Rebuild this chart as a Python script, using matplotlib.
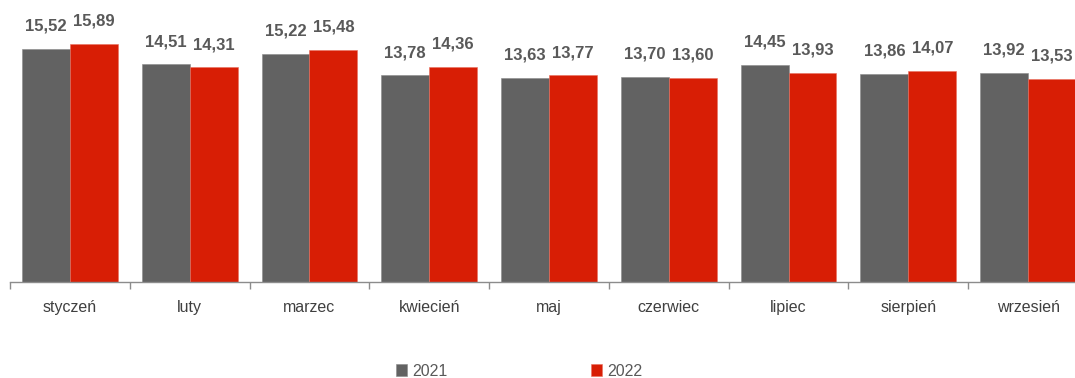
import numpy as np
import matplotlib
matplotlib.use("Agg")
from matplotlib import pyplot as plt
from matplotlib.ticker import FixedLocator, NullFormatter

# monthly values, two years side by side
months = ["styczeń", "luty", "marzec", "kwiecień", "maj", "czerwiec", "lipiec", "sierpień", "wrzesień"]
y2021 = [15.52, 14.51, 15.22, 13.78, 13.63, 13.70, 14.45, 13.86, 13.92]
y2022 = [15.89, 14.31, 15.48, 14.36, 13.77, 13.60, 13.93, 14.07, 13.53]
series_names = ["2021", "2022"]

GRAY = "#626262"
RED = "#d81e05"
LABEL = "#595959"
TICK = "#404040"

plt.rcParams["font.family"] = ["Liberation Sans", "DejaVu Sans"]

fig = plt.figure(figsize=(10.75, 3.78), dpi=100)
ax = fig.add_axes([10 / 1075, 96 / 378, 1078 / 1075, 282 / 378])

x = np.arange(len(months))
w = 0.4
b1 = ax.bar(x - w / 2, y2021, w, color=GRAY, edgecolor="#8a8a8a", linewidth=0.4, label=series_names[0])
b2 = ax.bar(x + w / 2, y2022, w, color=RED, edgecolor="#e8705f", linewidth=0.4, label=series_names[1])

def fmt(v):
    return f"{v:.2f}".replace(".", ",")

for bars, vals in ((b1, y2021), (b2, y2022)):
    for r, v in zip(bars, vals):
        ax.annotate(fmt(v), (r.get_x() + r.get_width() / 2, v),
                    xytext=(0, 11), textcoords="offset points",
                    ha="center", va="bottom", fontsize=12, fontweight="bold",
                    color=LABEL)

ax.set_xlim(-0.5, len(months) - 0.5)
ax.set_ylim(0, 18.8)

# category labels at centres, tick marks on the boundaries
ax.set_xticks(x)
ax.set_xticklabels(months, fontsize=11.5, color=TICK)
ax.tick_params(axis="x", which="major", length=0, pad=13)
ax.xaxis.set_minor_locator(FixedLocator(np.arange(-0.5, len(months), 1.0)))
ax.xaxis.set_minor_formatter(NullFormatter())
ax.tick_params(axis="x", which="minor", length=5, width=1, color="#8c8c8c")

ax.set_yticks([])
for s in ("top", "right", "left"):
    ax.spines[s].set_visible(False)
ax.spines["bottom"].set_color("#8c8c8c")
ax.spines["bottom"].set_linewidth(1)

fig.legend(handles=[b1, b2], labels=series_names, loc="center",
           bbox_to_anchor=(519 / 1075, 7 / 378), ncol=2, frameon=False,
           fontsize=11.5, labelcolor=LABEL, handlelength=0.7, handleheight=0.7,
           handletextpad=0.3, columnspacing=9.0, borderaxespad=0, borderpad=0)

fig.savefig("out.png", dpi=100)
